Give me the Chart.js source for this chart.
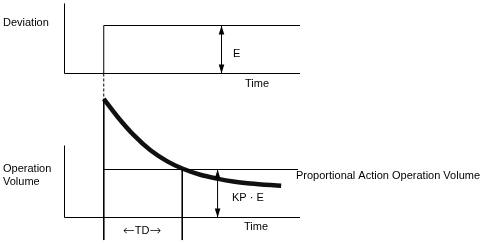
<!DOCTYPE html>
<html>
<head>
<meta charset="utf-8">
<script src="https://cdn.jsdelivr.net/npm/chart.js@4/dist/chart.umd.min.js"></script>
<style>
html,body{margin:0;padding:0;background:#fff;}
canvas{display:block;}
</style>
</head>
<body>
<canvas id="c" width="481" height="244"></canvas>
<script>
// ---- data (diagram units) ----
const timeAxis = [0, 6];                 // time range of both panels
const stepTime = 1;                      // moment the deviation steps
const tdEndTime = 3;                     // end of TD interval
const deviationTime  = [1, 1, 6];        // deviation step
const deviationValue = [0, 1, 1];        // E = 1
const opCurveTime  = [1, 1.35, 1.76, 2.19, 2.62, 3.0, 3.46, 3.89, 4.3, 4.73, 5.52];
const opCurveValue = [2.47, 2.10, 1.72, 1.40, 1.17, 1.02, 0.89, 0.81, 0.75, 0.71, 0.66];
const proportionalLevel = 1;             // KP · E
const proportionalEnd = 5.95;
const arrowTime = [4.0, 3.9];            // E arrow, KP·E arrow
const arrowLow  = [3, 0];
const arrowHigh = [4, 1];
const topPanelBase = 3;                  // baseline of deviation panel
const topAxisTop = 4.46;
const bottomAxisTop = 1.5;
const lowerLineEnd = -0.47;
const labels = ["Deviation", "E", "Time", "Operation", "Volume",
  "Proportional Action Operation Volume", "KP · E", "Time"];
const tdLabel = ["\u2190", "TD", "\u2192"];

// ---- build datasets ----
const line = (pts, extra) => Object.assign({
  data: pts, showLine: true, pointRadius: 0, borderColor: '#000',
  borderWidth: 1, tension: 0, clip: false, fill: false
}, extra || {});

const datasets = [
  line([{x: timeAxis[0], y: topPanelBase}, {x: timeAxis[0], y: topAxisTop}]),
  line([{x: timeAxis[0], y: topPanelBase}, {x: timeAxis[1], y: topPanelBase}]),
  line(deviationTime.map((t, i) => ({x: t, y: topPanelBase + deviationValue[i]}))),
  line([{x: stepTime, y: topPanelBase}, {x: stepTime, y: opCurveValue[0]}], {borderDash: [3, 2]}),
  line([{x: timeAxis[0], y: 0}, {x: timeAxis[0], y: bottomAxisTop}]),
  line([{x: timeAxis[0], y: 0}, {x: timeAxis[1], y: 0}]),
  line([{x: stepTime, y: opCurveValue[0]}, {x: stepTime, y: lowerLineEnd}]),
  line([{x: stepTime, y: proportionalLevel}, {x: proportionalEnd, y: proportionalLevel}]),
  line([{x: tdEndTime, y: proportionalLevel}, {x: tdEndTime, y: lowerLineEnd}]),
  ...arrowTime.map((t, i) => line([{x: t, y: arrowLow[i]}, {x: t, y: arrowHigh[i]}])),
  line(opCurveTime.map((t, i) => ({x: t, y: opCurveValue[i]})),
    {borderWidth: 4.5, borderColor: '#111', cubicInterpolationMode: 'monotone', borderCapStyle: 'butt'})
];

const arrowHeads = {
  id: 'arrowHeads',
  afterDatasetsDraw(chart) {
    const ctx = chart.ctx, xs = chart.scales.x, ys = chart.scales.y;
    ctx.save();
    ctx.fillStyle = '#000';
    arrowTime.forEach((t, i) => {
      const x = xs.getPixelForValue(t);
      const yl = ys.getPixelForValue(arrowLow[i]);
      const yh = ys.getPixelForValue(arrowHigh[i]);
      const L = 9, W = 2.8;
      ctx.beginPath();
      ctx.moveTo(x, yh); ctx.lineTo(x - W, yh + L); ctx.lineTo(x + W, yh + L); ctx.closePath(); ctx.fill();
      ctx.beginPath();
      ctx.moveTo(x, yl); ctx.lineTo(x - W, yl - L); ctx.lineTo(x + W, yl - L); ctx.closePath(); ctx.fill();
    });
    ctx.restore();
  }
};

const textLabels = {
  id: 'textLabels',
  afterDraw(chart) {
    const ctx = chart.ctx;
    ctx.save();
    ctx.fillStyle = '#000';
    const f = '11px "Liberation Sans", Arial, sans-serif';
    ctx.font = f;
    ctx.textBaseline = 'alphabetic';
    ctx.textAlign = 'left';
    const pos = [[3, 26], [233, 57], [245, 87], [3, 172], [3, 185],
      [296, 179], [232, 201], [244, 230]];
    labels.forEach((s, i) => ctx.fillText(s, pos[i][0], pos[i][1]));
    // TD label with longer, thin arrows
    const af = '200 14px "DejaVu Sans", sans-serif';
    let x = 123;
    ctx.font = af; ctx.fillText(tdLabel[0], x, 235); x += ctx.measureText(tdLabel[0]).width;
    ctx.font = f; ctx.fillText(tdLabel[1], x, 234); x += ctx.measureText(tdLabel[1]).width;
    ctx.font = af; ctx.fillText(tdLabel[2], x, 235);
    ctx.restore();
  }
};

new Chart(document.getElementById('c'), {
  type: 'scatter',
  data: { datasets },
  options: {
    responsive: false,
    animation: false,
    devicePixelRatio: 1,
    layout: { padding: { left: 64.5, right: 181, top: 1.5, bottom: 2.5 } },
    scales: {
      x: { type: 'linear', min: timeAxis[0], max: timeAxis[1], display: false },
      y: { type: 'linear', min: -0.5, max: 4.5, display: false }
    },
    plugins: { legend: { display: false }, tooltip: { enabled: false } }
  },
  plugins: [arrowHeads, textLabels]
});
</script>
</body>
</html>
